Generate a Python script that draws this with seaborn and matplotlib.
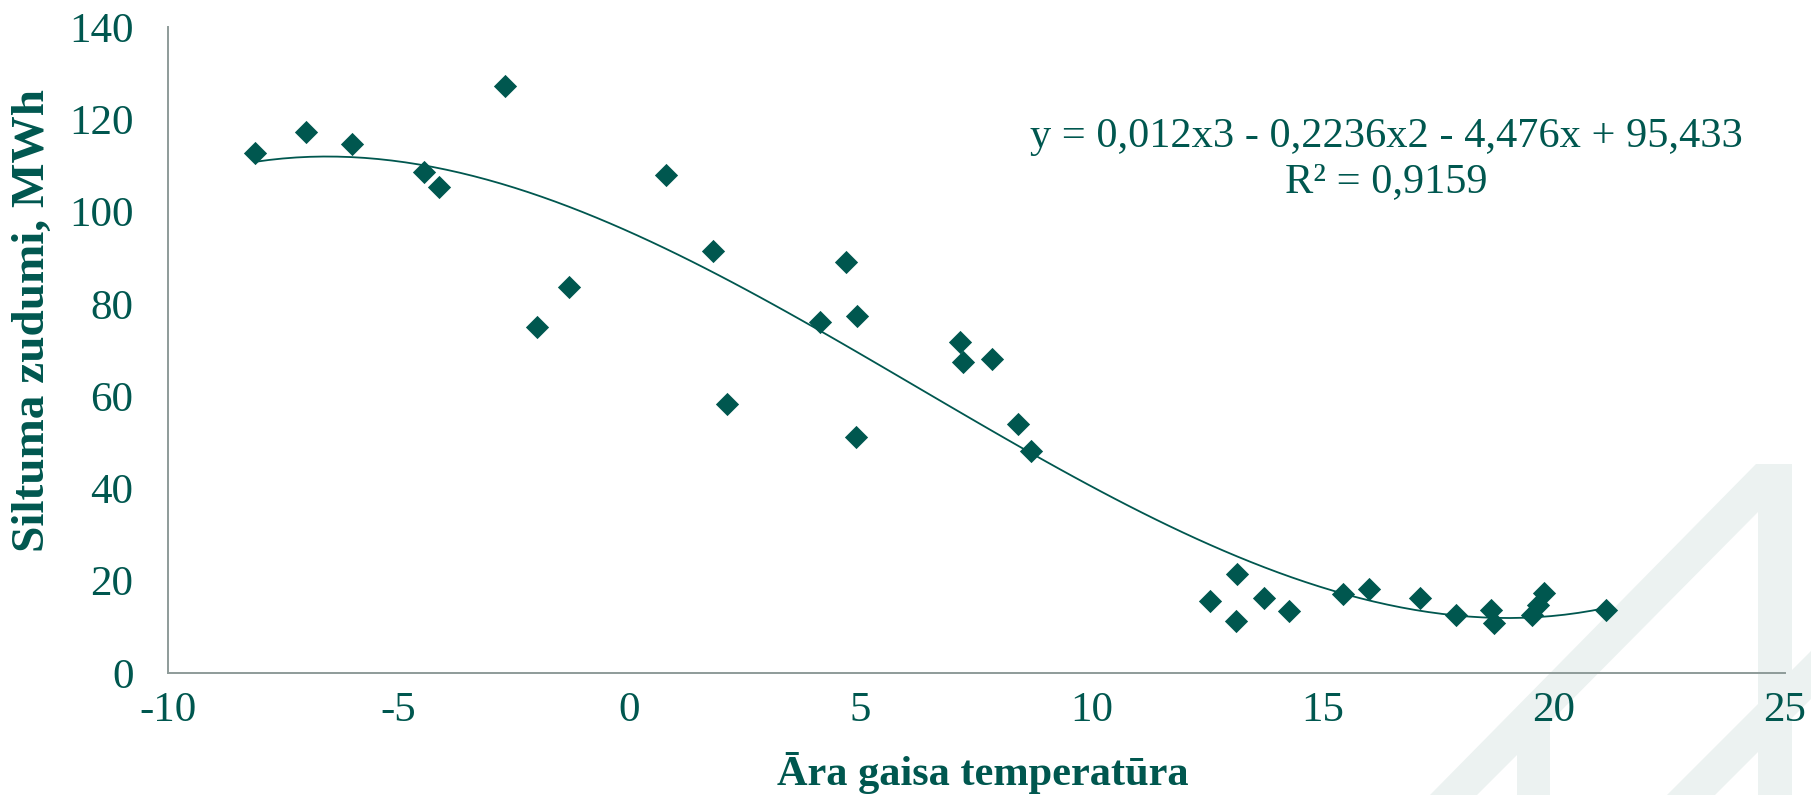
"""
plot.py

Heat loss vs outdoor air temperature, scatter with cubic trend line
"""

import matplotlib.pyplot as plt
from matplotlib.patches import Polygon
import seaborn as sns
import pandas as pd

# outdoor air temperature, degC
temperature = [-8.10, -7.00, -6.01, -4.44, -4.13, -2.69, -2.01, -1.32, 0.79, 1.81,
               2.12, 4.13, 4.69, 4.93, 4.91, 7.15, 7.21, 7.85, 8.41, 8.70,
               12.56, 13.15, 13.13, 13.74, 14.28, 15.45, 16.00, 17.10, 17.90, 18.65,
               18.71, 19.53, 19.67, 19.79, 21.13]
# heat losses, MWh
heat_loss = [112.6, 117.3, 114.7, 108.5, 105.4, 127.3, 74.9, 83.7, 107.9, 91.5,
             58.3, 76.0, 89.1, 77.4, 51.2, 71.7, 67.5, 68.1, 54.0, 48.2,
             15.7, 21.4, 11.2, 16.2, 13.5, 17.1, 18.2, 16.2, 12.6, 13.65,
             10.8, 12.6, 14.7, 17.3, 13.6]

x_ticks = [-10, -5, 0, 5, 10, 15, 20, 25]
y_ticks = [0, 20, 40, 60, 80, 100, 120, 140]
equation = "y = 0,012x3 - 0,2236x2 - 4,476x + 95,433\nR² = 0,9159"

TEAL = "#00574F"
GREY = "#8E9B99"
WATERMARK = "#ECF2F1"
W, H = 1811, 795


def main() -> None:
    df = pd.DataFrame({"temp": temperature, "loss": heat_loss})

    sns.set_style("white")
    plt.rcParams["font.family"] = ["Liberation Serif", "DejaVu Serif"]
    plt.rcParams["axes.unicode_minus"] = False

    fig = plt.figure(figsize=(W / 100, H / 100), dpi=100)
    fig.patch.set_facecolor("white")

    # faint logo watermark in the lower right corner (pixel coords)
    logo = [
        [(1430, 795), (1756, 464), (1792, 464), (1792, 795), (1758, 795), (1758, 512),
         (1550, 722), (1550, 795), (1517, 795), (1517, 755), (1477, 795)],
        [(1667, 795), (1811, 651), (1811, 699), (1715, 795)],
    ]
    for pts in logo:
        fig.add_artist(Polygon([(x / W, 1 - y / H) for x, y in pts], closed=True,
                               transform=fig.transFigure, facecolor=WATERMARK,
                               edgecolor="none", zorder=-1))

    ax = fig.add_axes([167.5 / W, 1 - 673 / H, 1617 / W, 646 / H])
    ax.patch.set_visible(False)

    sns.regplot(data=df, x="temp", y="loss", order=3, ci=None, ax=ax,
                marker="D",
                scatter_kws={"s": 140, "color": TEAL, "edgecolor": TEAL,
                             "linewidths": 0, "alpha": 1, "zorder": 3},
                line_kws={"color": TEAL, "lw": 1.3, "zorder": 2})

    ax.set_xlim(-10, 25)
    ax.set_ylim(0, 140)
    ax.set_xticks(x_ticks)
    ax.set_yticks(y_ticks)

    sns.despine(ax=ax)
    for side in ["left", "bottom"]:
        ax.spines[side].set_color(GREY)
        ax.spines[side].set_linewidth(1.4)

    ax.tick_params(axis="both", direction="out", length=8.5, width=1.2,
                   color=GREY, labelcolor=TEAL, labelsize=31)
    ax.tick_params(axis="y", pad=16)
    ax.tick_params(axis="x", pad=5)

    ax.set_xlabel("Āra gaisa temperatūra", fontsize=30.5, fontweight="bold", color=TEAL)
    ax.set_ylabel("Siltuma zudumi, MWh", fontsize=34, fontweight="bold", color=TEAL)
    ax.xaxis.set_label_coords(0.504, -0.122)
    ax.yaxis.set_label_coords(-0.07, 0.546)

    ax.text(0.7535, 0.795, equation, transform=ax.transAxes, ha="center", va="center",
            multialignment="center", fontsize=30.5, color=TEAL, linespacing=1.2)

    fig.savefig("out.png", dpi=100, facecolor="white")
    plt.close(fig)


if __name__ == "__main__":
    main()
